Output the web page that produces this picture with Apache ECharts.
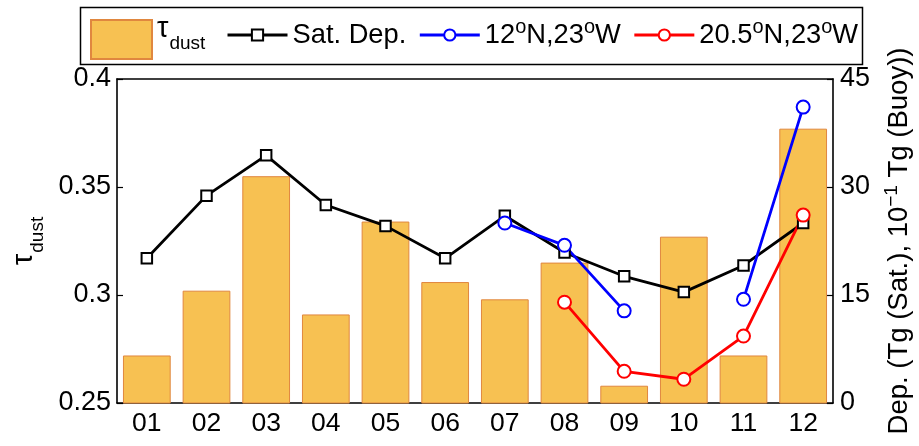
<!DOCTYPE html>
<html>
<head>
<meta charset="utf-8">
<script src="https://cdn.jsdelivr.net/npm/echarts@6/dist/echarts.min.js"></script>
<style>
html,body{margin:0;padding:0;background:#fff;}
#c{width:919px;height:446px;}
</style>
</head>
<body>
<div id="c"></div>
<script>
const months = ['01','02','03','04','05','06','07','08','09','10','11','12'];
const tauDust = [0.272, 0.302, 0.355, 0.291, 0.334, 0.306, 0.298, 0.315, 0.258, 0.327, 0.272, 0.377];
const satDep = [20.1, 28.8, 34.4, 27.5, 24.6, 20.1, 26.0, 20.9, 17.6, 15.4, 19.1, 25.0];
const buoy12N = [null, null, null, null, null, null, 25.0, 21.9, 12.8, null, 14.4, 41.1];
const buoy20N = [null, null, null, null, null, null, null, 14.0, 4.4, 3.3, 9.3, 26.1];
const leftTicks = [0.25, 0.3, 0.35, 0.4];
const rightTicks = [0, 15, 30, 45];

const FONT = 'Liberation Sans';
const legendText = {
  tau: '{t|τ}{sub|dust}',
  sat: '{n|Sat. Dep.}',
  n12: '{n|12}{sup|o}{n|N,23}{sup|o}{n|W}',
  n20: '{n|20.5}{sup|o}{n|N,23}{sup|o}{n|W}'
};
const richStyles = {
  n: {fontSize: 27.3, fontFamily: FONT, color: '#000', lineHeight: 32, verticalAlign: 'middle'},
  t: {fontSize: 29, fontFamily: FONT, color: '#000', lineHeight: 30, verticalAlign: 'middle', padding: [0, 0, 22, 0]},
  sub: {fontSize: 19, fontFamily: FONT, color: '#000', lineHeight: 22, verticalAlign: 'middle', padding: [8, 0, 0, 1]},
  sup: {fontSize: 20, fontFamily: FONT, color: '#000', lineHeight: 22, verticalAlign: 'middle', padding: [0, 0, 16, 0]}
};
const axisRich = {
  n: {fontSize: 27.5, fontFamily: FONT, color: '#000', lineHeight: 32, verticalAlign: 'middle'},
  t: {fontSize: 29, fontFamily: FONT, color: '#000', lineHeight: 30, verticalAlign: 'middle', padding: [0, 0, 20, 0]},
  sub: {fontSize: 19, fontFamily: FONT, color: '#000', lineHeight: 22, verticalAlign: 'middle', padding: [8, 0, 0, 1]},
  sup: {fontSize: 19, fontFamily: FONT, color: '#000', lineHeight: 22, verticalAlign: 'middle', padding: [0, 0, 15, 0]}
};

const chart = echarts.init(document.getElementById('c'), null, {renderer: 'canvas'});
const axisLineStyle = {color: '#000', width: 1.6};
const tickStyle = {color: '#000', width: 1.2};
const legendTextStyle = {fontSize: 27.3, fontFamily: FONT, color: '#000', rich: richStyles};
chart.setOption({
  animation: false,
  backgroundColor: '#fff',
  grid: {left: 117, right: 86, top: 79, bottom: 43, containLabel: false, outerBoundsMode: 'none'},
  graphic: [{
    type: 'rect', left: 78, top: 5, z: 0,
    shape: {width: 782, height: 57},
    style: {fill: 'none', stroke: '#000', lineWidth: 1.5}
  }],
  legend: [
    {
      left: 90, top: 14, padding: 0,
      itemWidth: 61, itemHeight: 39,
      data: [{name: 'tau', icon: 'rect'}],
      formatter: n => legendText[n],
      textStyle: legendTextStyle
    },
    {
      left: 226, top: 17, padding: 0,
      itemGap: 12, itemWidth: 60, itemHeight: 14,
      data: ['sat', 'n12', 'n20'],
      lineStyle: {width: 3},
      itemStyle: {borderWidth: 2.5},
      formatter: n => legendText[n],
      textStyle: legendTextStyle
    }
  ],
  xAxis: [
    {
      type: 'category', data: months, position: 'bottom',
      axisLine: {lineStyle: axisLineStyle},
      axisTick: {inside: true, alignWithLabel: true, length: 6, lineStyle: tickStyle},
      axisLabel: {fontSize: 26.5, fontFamily: FONT, color: '#000', margin: 7}
    },
    {
      type: 'category', data: months, position: 'top',
      axisLine: {lineStyle: axisLineStyle},
      axisTick: {inside: true, alignWithLabel: true, length: 6, lineStyle: tickStyle},
      axisLabel: {show: false}
    }
  ],
  yAxis: [
    {
      type: 'value', min: 0.25, max: 0.4, interval: 0.05, position: 'left',
      splitLine: {show: false},
      axisLine: {show: true, lineStyle: axisLineStyle},
      axisTick: {show: true, inside: true, length: 6, lineStyle: tickStyle},
      axisLabel: {fontSize: 27, fontFamily: FONT, color: '#000', margin: 6,
        formatter: v => String(+v.toFixed(2))},
      name: '{t|τ}{sub|dust}',
      nameLocation: 'middle', nameRotate: 90, nameGap: 68, nameMoveOverlap: false,
      nameTextStyle: {rich: axisRich}
    },
    {
      type: 'value', min: 0, max: 45, interval: 15, position: 'right',
      splitLine: {show: false},
      axisLine: {show: true, lineStyle: axisLineStyle},
      axisTick: {show: true, inside: true, length: 6, lineStyle: tickStyle},
      axisLabel: {fontSize: 27, fontFamily: FONT, color: '#000', margin: 7},
      name: '{n|Dep. (Tg (Sat.), 10}{sup|−1}{n| Tg (Buoy))}',
      nameLocation: 'middle', nameRotate: 90, nameGap: 50,
      nameTextStyle: {rich: axisRich}
    }
  ],
  series: [
    {
      name: 'tau', type: 'bar', data: tauDust, yAxisIndex: 0, barWidth: '80%',
      itemStyle: {color: '#F7C152', borderColor: '#E0873F', borderWidth: 1}
    },
    {
      name: 'sat', type: 'line', data: satDep, yAxisIndex: 1,
      symbol: 'emptyRect', symbolSize: 10.5,
      lineStyle: {color: '#000', width: 2.8},
      itemStyle: {color: '#000', borderColor: '#000', borderWidth: 2.8}
    },
    {
      name: 'n12', type: 'line', data: buoy12N, yAxisIndex: 1,
      symbol: 'emptyCircle', symbolSize: 13,
      lineStyle: {color: '#0000FF', width: 2.8},
      itemStyle: {color: '#0000FF', borderColor: '#0000FF', borderWidth: 2.6}
    },
    {
      name: 'n20', type: 'line', data: buoy20N, yAxisIndex: 1,
      symbol: 'emptyCircle', symbolSize: 13,
      lineStyle: {color: '#FF0000', width: 2.8},
      itemStyle: {color: '#FF0000', borderColor: '#FF0000', borderWidth: 2.6}
    }
  ]
});
</script>
</body>
</html>
